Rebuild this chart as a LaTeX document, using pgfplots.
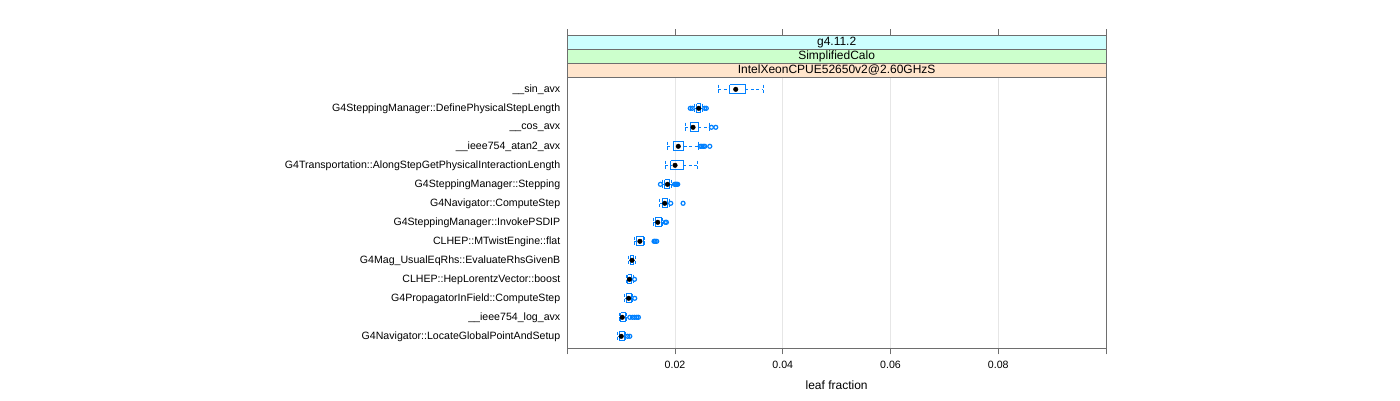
\documentclass[border=0pt]{standalone}
\usepackage{fontspec}
\setmainfont{Liberation Sans}
\usepackage{pgfplots}
\usepackage{pgfplotstable}
\pgfplotsset{compat=1.18}
\definecolor{boxblue}{HTML}{0080FF}
\definecolor{stripcyan}{HTML}{CCFFFF}
\definecolor{stripgreen}{HTML}{CCFFCC}
\definecolor{strippeach}{HTML}{FFE5CC}
\definecolor{gridgray}{HTML}{E6E6E6}
\definecolor{framegray}{HTML}{6E6E6E}
% medians, one row per function (row 1 = top)
\pgfplotstableread{
row med
1 0.03127
2 0.02440
3 0.02334
4 0.02060
5 0.02000
6 0.01860
7 0.01809
8 0.01679
9 0.01348
10 0.01201
11 0.01153
12 0.01140
13 0.01020
14 0.01001
}\med
% outliers
\pgfplotstableread{
x y
0.02283 2
0.02320 2
0.02550 2
0.02580 2
0.02676 3
0.02756 3
0.02468 4
0.02496 4
0.02524 4
0.02552 4
0.02645 4
0.01729 6
0.01990 6
0.02010 6
0.02030 6
0.02050 6
0.01920 7
0.02149 7
0.01818 8
0.01840 8
0.01610 9
0.01630 9
0.01660 9
0.01248 11
0.01252 12
0.01160 13
0.01210 13
0.01250 13
0.01290 13
0.01320 13
0.01120 14
0.01160 14
}\outl
\begin{document}
\begin{tikzpicture}
\useasboundingbox (0,0) rectangle (1400pt,-400pt);
\begin{scope}[color=boxblue]
\color{boxblue}
\begin{axis}[
  at={(567.3pt,-35.3pt)}, anchor=north west,
  scale only axis, width=538.7pt, height=313pt,
  xmin=0, xmax=0.1, ymin=-1.842, ymax=14.632, y dir=reverse,
  unbounded coords=jump,
  axis line style={framegray, line width=0.9pt},
  xtick={0,0.02,0.04,0.06,0.08,0.1},
  xticklabels={,0.02,0.04,0.06,0.08,},
  xtick pos=both, tick align=outside, major tick length=6pt,
  x tick style={framegray, line width=0.9pt},
  xmajorgrids, major x grid style={gridgray, line width=0.9pt},
  ytick={1,...,14},
  yticklabels={\_\_sin\_avx, G4SteppingManager::DefinePhysicalStepLength, \_\_cos\_avx, \_\_ieee754\_atan2\_avx, G4Transportation::AlongStepGetPhysicalInteractionLength, G4SteppingManager::Stepping, G4Navigator::ComputeStep, G4SteppingManager::InvokePSDIP, CLHEP::MTwistEngine::flat, G4Mag\_UsualEqRhs::EvaluateRhsGivenB, CLHEP::HepLorentzVector::boost, G4PropagatorInField::ComputeStep, \_\_ieee754\_log\_avx, G4Navigator::LocateGlobalPointAndSetup},
  ytick pos=left, y tick style={draw=none},
  ticklabel style={text=black, font=\fontsize{10.6}{12}\selectfont},
  xticklabel style={yshift=-3.5pt},
  yticklabel style={xshift=2.5pt},
  xlabel={leaf fraction},
  xlabel style={text=black, font=\fontsize{12}{14}\selectfont, at={(axis description cs:0.5,0)}, anchor=center, yshift=-37pt},
  clip=false,
]
% whiskers: lower whisker to Q1, Q3 to upper whisker (dashed)
\addplot[color=boxblue, draw=boxblue, mark=none, line width=1pt, dash pattern=on 3pt off 2.5pt] coordinates {
(0.02799,1)(0.03016,1) (nan,nan) (0.03307,1)(0.03634,1) (nan,nan)
(0.02366,2)(0.02403,2) (nan,nan) (0.02477,2)(0.02515,2) (nan,nan)
(0.02193,3)(0.02286,3) (nan,nan) (0.02435,3)(0.02631,3) (nan,nan)
(0.01851,4)(0.01970,4) (nan,nan) (0.02162,4)(0.02440,4) (nan,nan)
(0.01814,5)(0.01920,5) (nan,nan) (0.02149,5)(0.02409,5) (nan,nan)
(0.01772,6)(0.01809,6) (nan,nan) (0.01902,6)(0.01939,6) (nan,nan)
(0.01716,7)(0.01762,7) (nan,nan) (0.01864,7)(0.01892,7) (nan,nan)
(0.01595,8)(0.01629,8) (nan,nan) (0.01744,8)(0.01772,8) (nan,nan)
(0.01242,9)(0.01280,9) (nan,nan) (0.01409,9)(0.01437,9) (nan,nan)
(0.01140,10)(0.01168,10) (nan,nan) (0.01233,10)(0.01261,10) (nan,nan)
(0.01103,11)(0.01122,11) (nan,nan) (0.01196,11)(0.01224,11) (nan,nan)
(0.01066,12)(0.01094,12) (nan,nan) (0.01187,12)(0.01215,12) (nan,nan)
(0.00964,13)(0.00988,13) (nan,nan) (0.01075,13)(0.01103,13) (nan,nan)
(0.00936,14)(0.00964,14) (nan,nan) (0.01057,14)(0.01085,14)
};
% whisker end bars (dashed)
\addplot[color=boxblue, draw=boxblue, mark=none, line width=1pt, dash pattern=on 3pt off 2.5pt] coordinates {
(0.02799,0.755)(0.02799,1.245) (nan,nan) (0.03634,0.755)(0.03634,1.245) (nan,nan)
(0.02366,1.755)(0.02366,2.245) (nan,nan) (0.02515,1.755)(0.02515,2.245) (nan,nan)
(0.02193,2.755)(0.02193,3.245) (nan,nan) (0.02631,2.755)(0.02631,3.245) (nan,nan)
(0.01851,3.755)(0.01851,4.245) (nan,nan) (0.02440,3.755)(0.02440,4.245) (nan,nan)
(0.01814,4.755)(0.01814,5.245) (nan,nan) (0.02409,4.755)(0.02409,5.245) (nan,nan)
(0.01772,5.755)(0.01772,6.245) (nan,nan) (0.01939,5.755)(0.01939,6.245) (nan,nan)
(0.01716,6.755)(0.01716,7.245) (nan,nan) (0.01892,6.755)(0.01892,7.245) (nan,nan)
(0.01595,7.755)(0.01595,8.245) (nan,nan) (0.01772,7.755)(0.01772,8.245) (nan,nan)
(0.01242,8.755)(0.01242,9.245) (nan,nan) (0.01437,8.755)(0.01437,9.245) (nan,nan)
(0.01140,9.755)(0.01140,10.245) (nan,nan) (0.01261,9.755)(0.01261,10.245) (nan,nan)
(0.01103,10.755)(0.01103,11.245) (nan,nan) (0.01224,10.755)(0.01224,11.245) (nan,nan)
(0.01066,11.755)(0.01066,12.245) (nan,nan) (0.01215,11.755)(0.01215,12.245) (nan,nan)
(0.00964,12.755)(0.00964,13.245) (nan,nan) (0.01103,12.755)(0.01103,13.245) (nan,nan)
(0.00936,13.755)(0.00936,14.245) (nan,nan) (0.01085,13.755)(0.01085,14.245)
};
% boxes Q1..Q3
\addplot[color=boxblue, draw=boxblue, mark=none, line width=1pt, solid] coordinates {
(0.03016,0.755)(0.03307,0.755)(0.03307,1.245)(0.03016,1.245)(0.03016,0.755) (nan,nan)
(0.02403,1.755)(0.02477,1.755)(0.02477,2.245)(0.02403,2.245)(0.02403,1.755) (nan,nan)
(0.02286,2.755)(0.02435,2.755)(0.02435,3.245)(0.02286,3.245)(0.02286,2.755) (nan,nan)
(0.01970,3.755)(0.02162,3.755)(0.02162,4.245)(0.01970,4.245)(0.01970,3.755) (nan,nan)
(0.01920,4.755)(0.02149,4.755)(0.02149,5.245)(0.01920,5.245)(0.01920,4.755) (nan,nan)
(0.01809,5.755)(0.01902,5.755)(0.01902,6.245)(0.01809,6.245)(0.01809,5.755) (nan,nan)
(0.01762,6.755)(0.01864,6.755)(0.01864,7.245)(0.01762,7.245)(0.01762,6.755) (nan,nan)
(0.01629,7.755)(0.01744,7.755)(0.01744,8.245)(0.01629,8.245)(0.01629,7.755) (nan,nan)
(0.01280,8.755)(0.01409,8.755)(0.01409,9.245)(0.01280,9.245)(0.01280,8.755) (nan,nan)
(0.01168,9.755)(0.01233,9.755)(0.01233,10.245)(0.01168,10.245)(0.01168,9.755) (nan,nan)
(0.01122,10.755)(0.01196,10.755)(0.01196,11.245)(0.01122,11.245)(0.01122,10.755) (nan,nan)
(0.01094,11.755)(0.01187,11.755)(0.01187,12.245)(0.01094,12.245)(0.01094,11.755) (nan,nan)
(0.00988,12.755)(0.01075,12.755)(0.01075,13.245)(0.00988,13.245)(0.00988,12.755) (nan,nan)
(0.00964,13.755)(0.01057,13.755)(0.01057,14.245)(0.00964,14.245)(0.00964,13.755)
};
% outliers
\addplot[only marks, mark=o, mark size=2pt, mark options={draw=boxblue, line width=1.2pt}] table[x=x, y=y] {\outl};
% medians
\addplot[only marks, mark=*, mark size=2.3pt, black] table[x=med, y=row] {\med};
% strips
\draw[framegray, line width=0.9pt, fill=stripcyan] (axis cs:0,-1.842) rectangle (axis cs:0.1,-1.105);
\draw[framegray, line width=0.9pt, fill=stripgreen] (axis cs:0,-1.105) rectangle (axis cs:0.1,-0.368);
\draw[framegray, line width=0.9pt, fill=strippeach] (axis cs:0,-0.368) rectangle (axis cs:0.1,0.368);
\node[text=black, font=\fontsize{12}{14}\selectfont, inner sep=0pt] at (axis cs:0.05,-1.474) {g4.11.2};
\node[text=black, font=\fontsize{12}{14}\selectfont, inner sep=0pt] at (axis cs:0.05,-0.737) {SimplifiedCalo};
\node[text=black, font=\fontsize{12}{14}\selectfont, inner sep=0pt] at (axis cs:0.05,0) {IntelXeonCPUE52650v2@2.60GHzS};
\end{axis}
\end{scope}
\end{tikzpicture}
\end{document}
